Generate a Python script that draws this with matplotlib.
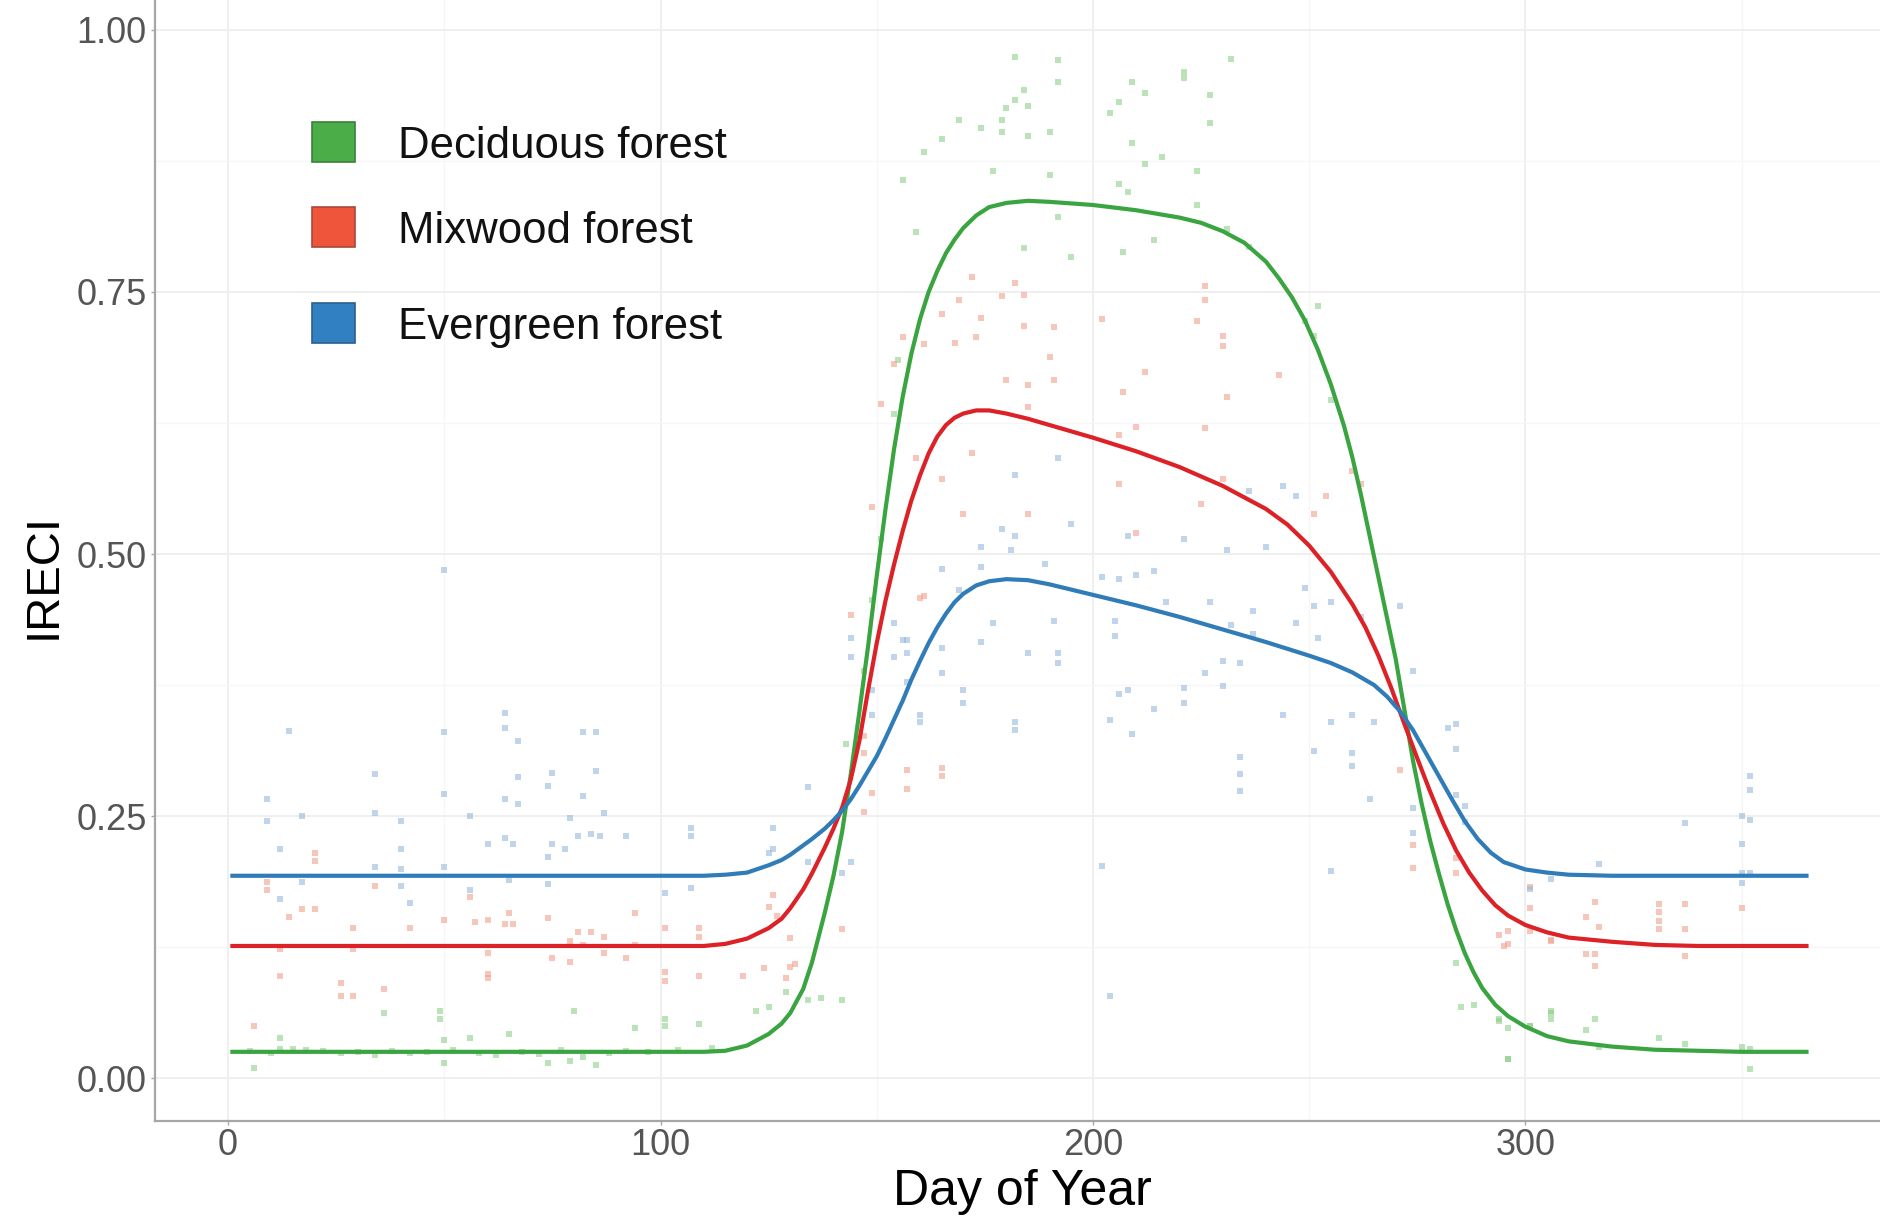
import matplotlib
matplotlib.use("Agg")
import matplotlib.pyplot as plt
from matplotlib.patches import Rectangle
from matplotlib.ticker import MultipleLocator

plt.rcParams['font.family'] = ['Liberation Sans', 'DejaVu Sans']

# ---------------- data ----------------
series_names = ["Deciduous forest", "Mixwood forest", "Evergreen forest"]

# fitted curves (day of year, IRECI)
dec_days = [1, 20, 40, 60, 80, 100, 110, 115, 120, 125, 128, 130, 133, 135, 138, 140, 142, 144,
            146, 148, 150, 152, 154, 156, 158, 160, 162, 164, 166, 168, 170, 173, 176, 180, 185,
            190, 200, 210, 220, 225, 230, 235, 240, 243, 246, 249, 252, 255, 258, 260, 262, 264,
            266, 268, 270, 272, 274, 276, 278, 280, 282, 284, 286, 288, 290, 293, 296, 300, 305,
            310, 320, 330, 340, 350, 365]
dec_vals = [0.025, 0.025, 0.025, 0.025, 0.025, 0.025, 0.025, 0.026, 0.031, 0.042, 0.052, 0.062,
            0.085, 0.110, 0.158, 0.193, 0.235, 0.290, 0.350, 0.412, 0.479, 0.542, 0.600, 0.650,
            0.691, 0.724, 0.750, 0.770, 0.787, 0.800, 0.811, 0.823, 0.831, 0.835, 0.837, 0.836,
            0.833, 0.828, 0.821, 0.816, 0.808, 0.797, 0.779, 0.763, 0.745, 0.723, 0.695, 0.662,
            0.623, 0.592, 0.556, 0.517, 0.478, 0.439, 0.400, 0.352, 0.303, 0.262, 0.226, 0.195,
            0.166, 0.141, 0.119, 0.101, 0.086, 0.070, 0.059, 0.049, 0.040, 0.035, 0.030, 0.027,
            0.026, 0.025, 0.025]

mix_days = [1, 20, 40, 60, 80, 100, 110, 115, 120, 125, 128, 130, 133, 135, 138, 140, 142, 144,
            146, 148, 150, 152, 154, 156, 158, 160, 162, 164, 166, 168, 170, 173, 176, 180, 185,
            190, 200, 210, 220, 230, 240, 245, 250, 255, 260, 263, 266, 269, 272, 275, 278, 281,
            284, 287, 290, 293, 296, 300, 305, 310, 320, 330, 340, 365]
mix_vals = [0.126, 0.126, 0.126, 0.126, 0.126, 0.126, 0.126, 0.128, 0.133, 0.143, 0.152, 0.162,
            0.180, 0.195, 0.220, 0.238, 0.258, 0.285, 0.322, 0.370, 0.415, 0.455, 0.490, 0.522,
            0.551, 0.575, 0.596, 0.612, 0.623, 0.630, 0.634, 0.637, 0.637, 0.634, 0.629, 0.623,
            0.611, 0.598, 0.583, 0.565, 0.543, 0.528, 0.508, 0.483, 0.452, 0.430, 0.403, 0.372,
            0.338, 0.305, 0.273, 0.243, 0.217, 0.196, 0.179, 0.165, 0.155, 0.146, 0.139, 0.134,
            0.130, 0.127, 0.126, 0.126]

evg_days = [1, 20, 40, 60, 80, 100, 110, 115, 120, 125, 128, 130, 133, 135, 138, 140, 142, 144,
            146, 148, 150, 152, 154, 156, 158, 160, 162, 164, 166, 168, 170, 173, 176, 180, 185,
            190, 200, 210, 220, 230, 240, 250, 255, 260, 265, 268, 271, 274, 277, 280, 283, 286,
            289, 292, 295, 300, 305, 310, 320, 365]
evg_vals = [0.193, 0.193, 0.193, 0.193, 0.193, 0.193, 0.193, 0.194, 0.196, 0.203, 0.208, 0.213,
            0.222, 0.228, 0.238, 0.246, 0.255, 0.266, 0.279, 0.293, 0.307, 0.324, 0.342, 0.360,
            0.380, 0.398, 0.415, 0.430, 0.443, 0.454, 0.462, 0.470, 0.474, 0.476, 0.475, 0.471,
            0.461, 0.451, 0.440, 0.428, 0.416, 0.403, 0.396, 0.387, 0.375, 0.364, 0.350, 0.332,
            0.310, 0.288, 0.266, 0.245, 0.228, 0.215, 0.206, 0.199, 0.196, 0.194, 0.193, 0.193]

# observations (day, IRECI)
dec_obs_day = [5, 10, 12, 15, 18, 22, 26, 30, 34, 38, 42, 46, 52, 58, 62, 68, 72, 77, 88, 92, 97,
               104, 112, 36, 49, 49, 80, 94, 101, 101, 109, 122, 125, 12, 65, 50, 56, 6, 50, 74,
               79, 85, 82, 134, 137, 142, 129,
               182, 192, 232, 221, 221, 192, 209, 184, 212, 182, 227, 206, 180, 185, 204, 169,
               179, 227, 174, 179, 190, 185, 165, 209, 161, 216, 212, 177, 190, 224, 156, 206,
               208, 224, 192, 159, 231, 214, 236, 184, 207, 195, 249, 251, 252, 255, 151, 149,
               147, 143, 154, 155,
               284, 285, 288, 294, 296, 301, 306, 294, 296, 301, 306, 306, 316, 314, 317, 331,
               337, 350, 352, 352, 296]
dec_obs_val = [0.026, 0.024, 0.028, 0.028, 0.027, 0.026, 0.024, 0.025, 0.022, 0.026, 0.024,
               0.025, 0.027, 0.024, 0.022, 0.025, 0.023, 0.027, 0.024, 0.026, 0.025, 0.027, 0.029,
               0.062, 0.064, 0.056, 0.064, 0.048, 0.056, 0.050, 0.052, 0.064, 0.068, 0.038, 0.042,
               0.036, 0.038, 0.010, 0.014, 0.014, 0.016, 0.012, 0.020, 0.074, 0.076, 0.074, 0.082,
               0.974, 0.971, 0.972, 0.960, 0.954, 0.950, 0.950, 0.943, 0.940, 0.933, 0.938, 0.931,
               0.926, 0.927, 0.921, 0.914, 0.914, 0.911, 0.906, 0.903, 0.903, 0.899, 0.896, 0.892,
               0.884, 0.879, 0.872, 0.865, 0.862, 0.865, 0.857, 0.853, 0.845, 0.833, 0.822, 0.807,
               0.810, 0.800, 0.793, 0.792, 0.788, 0.783, 0.722, 0.708, 0.737, 0.647, 0.514, 0.456,
               0.388, 0.319, 0.634, 0.685,
               0.110, 0.068, 0.070, 0.054, 0.018, 0.050, 0.062, 0.056, 0.048, 0.050, 0.064, 0.056,
               0.056, 0.046, 0.030, 0.038, 0.032, 0.030, 0.028, 0.009, 0.018]

mix_obs_day = [20, 20, 9, 9, 34, 56, 14, 17, 20, 94, 65, 66, 64, 74, 60, 57, 50, 42, 29, 101, 109,
               109, 126, 125, 127, 81, 84, 87, 79, 82, 94, 92, 87, 75, 79, 60, 60, 60, 12, 12, 29,
               26, 26, 29, 36, 101, 101, 109, 119, 124, 131, 129, 6, 130, 130, 142,
               156, 168, 173, 161, 154, 180, 185, 191, 151, 185, 172, 182, 169, 179, 184, 165, 174,
               184, 191, 190, 202, 207, 212, 210, 206, 226, 230, 230, 231, 224, 226, 226, 243, 172,
               159, 165, 206, 230, 225, 170, 185, 149, 251, 254, 260, 262, 210, 165, 165, 157, 157,
               149, 147, 147, 147, 161, 160, 144,
               271, 274, 274, 284, 284, 294, 295, 301, 301, 306, 316, 337, 331, 331, 331, 331, 350,
               301, 314, 317, 337, 296, 306, 296, 314, 316, 337, 316]
mix_obs_val = [0.215, 0.207, 0.187, 0.179, 0.183, 0.173, 0.154, 0.161, 0.161, 0.157, 0.157, 0.147,
               0.147, 0.153, 0.151, 0.149, 0.151, 0.143, 0.143, 0.143, 0.143, 0.135, 0.175, 0.163,
               0.155, 0.139, 0.139, 0.135, 0.131, 0.127, 0.127, 0.115, 0.119, 0.115, 0.111, 0.119,
               0.099, 0.095, 0.123, 0.097, 0.123, 0.091, 0.078, 0.078, 0.085, 0.101, 0.093, 0.097,
               0.097, 0.105, 0.109, 0.095, 0.050, 0.134, 0.106, 0.142,
               0.707, 0.701, 0.707, 0.700, 0.681, 0.666, 0.661, 0.666, 0.643, 0.640, 0.764, 0.759,
               0.742, 0.746, 0.747, 0.729, 0.725, 0.718, 0.717, 0.688, 0.724, 0.655, 0.674, 0.621,
               0.614, 0.620, 0.708, 0.698, 0.650, 0.722, 0.742, 0.756, 0.671, 0.596, 0.592, 0.572,
               0.567, 0.572, 0.548, 0.538, 0.538, 0.545, 0.538, 0.555, 0.579, 0.567, 0.520, 0.296,
               0.288, 0.294, 0.276, 0.272, 0.254, 0.326, 0.310, 0.460, 0.458, 0.442,
               0.294, 0.222, 0.200, 0.210, 0.196, 0.136, 0.126, 0.182, 0.140, 0.132, 0.168, 0.166,
               0.166, 0.158, 0.150, 0.142, 0.162, 0.162, 0.154, 0.144, 0.142, 0.140, 0.131, 0.128,
               0.118, 0.118, 0.116, 0.107]

evg_obs_day = [50, 14, 50, 64, 64, 67, 82, 85, 85, 67, 74, 75, 50, 82, 34, 9, 64, 67, 34, 56, 79,
               87, 17, 40, 9, 107, 107, 126, 126, 125, 64, 66, 60, 75, 74, 78, 81, 84, 86, 92, 12,
               40, 34, 50, 40, 17, 40, 56, 65, 74, 101, 107, 12, 42,
               144, 144, 157, 157, 169, 165, 165, 174, 177, 185, 191, 192, 192, 202, 206, 210, 214,
               217, 205, 205, 227, 232, 237, 237, 247, 252, 226, 230, 230, 234, 221, 221, 208, 206,
               204, 209, 214, 244, 255, 260, 265, 182, 182, 170, 170, 160, 160, 234, 234, 234, 251,
               260, 260, 264, 202, 204, 255, 149, 149, 154, 154, 156, 157, 165, 174, 189, 181, 231,
               240, 221, 208, 195, 182, 179, 174, 247, 244, 236, 192, 182, 134, 142, 144, 134,
               282, 284, 284, 284, 286, 286, 274, 274, 352, 352, 337, 350, 352, 350, 317, 306, 350,
               350, 352, 301, 271, 262, 255, 251, 249, 274]
evg_obs_val = [0.485, 0.331, 0.330, 0.348, 0.334, 0.322, 0.330, 0.330, 0.293, 0.287, 0.279, 0.291,
               0.271, 0.269, 0.290, 0.266, 0.266, 0.261, 0.253, 0.250, 0.248, 0.253, 0.250, 0.245,
               0.245, 0.239, 0.231, 0.239, 0.219, 0.215, 0.229, 0.223, 0.223, 0.223, 0.211, 0.219,
               0.231, 0.233, 0.231, 0.231, 0.219, 0.219, 0.201, 0.201, 0.199, 0.187, 0.183, 0.179,
               0.189, 0.185, 0.177, 0.181, 0.171, 0.167,
               0.420, 0.402, 0.418, 0.406, 0.466, 0.410, 0.386, 0.416, 0.434, 0.406, 0.436, 0.396,
               0.406, 0.478, 0.476, 0.480, 0.484, 0.454, 0.436, 0.422, 0.454, 0.432, 0.446, 0.424,
               0.434, 0.420, 0.386, 0.398, 0.374, 0.396, 0.372, 0.358, 0.370, 0.366, 0.342, 0.328,
               0.352, 0.346, 0.340, 0.346, 0.340, 0.340, 0.332, 0.370, 0.358, 0.346, 0.340, 0.306,
               0.290, 0.274, 0.312, 0.310, 0.298, 0.266, 0.202, 0.078, 0.198, 0.370, 0.346, 0.434,
               0.402, 0.418, 0.378, 0.486, 0.488, 0.490, 0.504, 0.504, 0.507, 0.514, 0.517, 0.529,
               0.517, 0.524, 0.507, 0.555, 0.565, 0.560, 0.592, 0.575, 0.206, 0.196, 0.206, 0.278,
               0.334, 0.338, 0.314, 0.270, 0.260, 0.244, 0.258, 0.234, 0.288, 0.275, 0.243, 0.250,
               0.246, 0.223, 0.204, 0.190, 0.196, 0.186, 0.196, 0.180, 0.450, 0.440, 0.454, 0.450,
               0.468, 0.388]

x_ticks = [0, 100, 200, 300]
y_ticks = [0.00, 0.25, 0.50, 0.75, 1.00]
y_tick_labels = ["0.00", "0.25", "0.50", "0.75", "1.00"]

# ---------------- styling ----------------
line_colors = ["#3aa540", "#dc2127", "#2f7cb8"]
point_colors = ["#8fcf8a", "#f3a08c", "#97b8dc"]
legend_fill = ["#4aad48", "#ee553a", "#3080c2"]
legend_edge = ["#3c7f3a", "#a8483a", "#2e5f8c"]

W, H = 1880, 1217
fig = plt.figure(figsize=(W / 100, H / 100), dpi=100)
ax_l, ax_b = 155 / W, 1 - 1121 / H
ax = fig.add_axes([ax_l, ax_b, 1 - ax_l, 1121 / H])
ax.set_xlim(-16.9, 382.0)
ax.set_ylim(-0.041, 1.0286)

ax.xaxis.set_minor_locator(MultipleLocator(50))
ax.yaxis.set_minor_locator(MultipleLocator(0.125))
ax.grid(which="major", color="#efefef", lw=1.4)
ax.grid(which="minor", color="#f6f6f6", lw=0.9)
ax.set_axisbelow(True)

for s in ["top", "right"]:
    ax.spines[s].set_visible(False)
for s in ["left", "bottom"]:
    ax.spines[s].set_color("#a6a6a6")
    ax.spines[s].set_linewidth(1.6)

ax.set_xticks(x_ticks)
ax.set_xticklabels([str(t) for t in x_ticks])
ax.set_yticks(y_ticks)
ax.set_yticklabels(y_tick_labels)
ax.tick_params(axis="both", which="major", length=3, width=1, color="#a6a6a6",
               labelsize=26, labelcolor="#555555")
ax.tick_params(axis="x", pad=2)
ax.tick_params(axis="y", pad=3)
ax.tick_params(which="minor", length=0)

obs = [(dec_obs_day, dec_obs_val), (mix_obs_day, mix_obs_val), (evg_obs_day, evg_obs_val)]
for (dd, vv), c in zip(obs, point_colors):
    ax.scatter(dd, vv, s=14, marker="s", color=c, alpha=0.6, linewidths=0, zorder=2)

curves = [(dec_days, dec_vals), (mix_days, mix_vals), (evg_days, evg_vals)]
for (dd, vv), c in zip(curves, line_colors):
    ax.plot(dd, vv, color=c, lw=3.0, zorder=3, solid_joinstyle="round")

# axis titles
fig.text(1022 / W, 1 - 1192 / H, "Day of Year", ha="center", va="center", fontsize=36,
         color="black")
fig.text(44 / W, 1 - 576 / H, "IRECI", ha="center", va="center", rotation=90, fontsize=34,
         color="black")

# legend
sq_tops = [122, 207, 303]
sq_h = 40
for name, top, fc, ec in zip(series_names, sq_tops, legend_fill, legend_edge):
    fig.patches.append(Rectangle((312 / W, 1 - (top + sq_h) / H), 43 / W, sq_h / H,
                                 transform=fig.transFigure, facecolor=fc, edgecolor=ec,
                                 lw=1.2, zorder=5))
    fig.text(398 / W, 1 - (top + sq_h / 2) / H, name, ha="left", va="center_baseline",
             fontsize=31.5, color="#111111")

fig.savefig("out.png", dpi=100)
